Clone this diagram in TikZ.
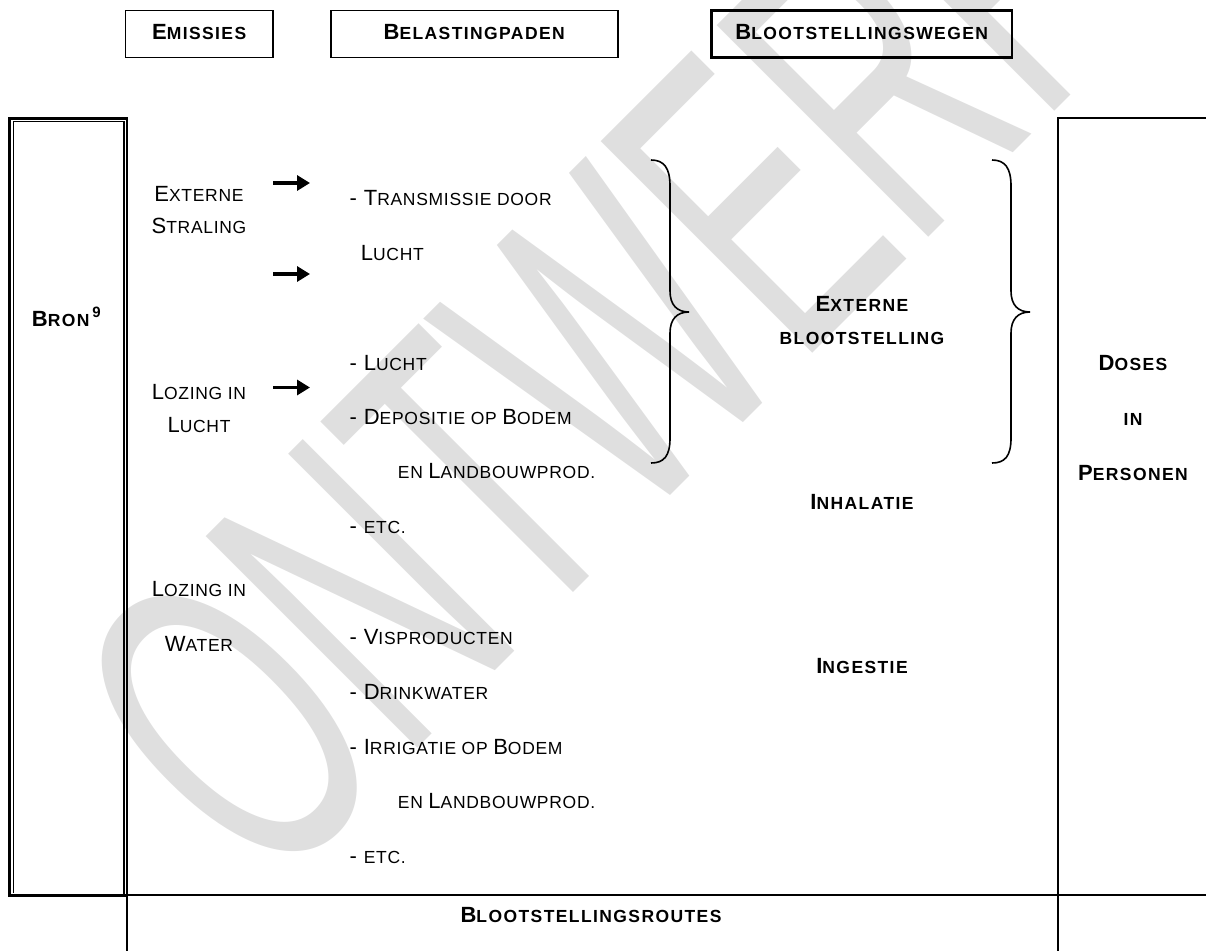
\documentclass[tikz,border=0pt]{standalone}
\usepackage{fontspec}
\setmainfont[LetterSpace=4,BoldFeatures={LetterSpace=8}]{Liberation Sans}
\newfontfamily\wmfont{Liberation Sans}
\usetikzlibrary{arrows.meta}
\newcommand\sm[1]{{\fontsize{17.5}{20}\selectfont #1}}
\tikzset{
  lbl/.style={inner sep=0pt, font=\fontsize{22}{26}\selectfont},
  lblc/.style={lbl, anchor=base},
  lbll/.style={lbl, anchor=base west},
  hdr/.style={inner sep=0pt, anchor=base, font=\fontsize{22}{26}\selectfont\bfseries},
  hbox/.style={draw=black, line width=1.8pt, inner sep=0pt, minimum height=47pt},
  rule/.style={draw=black, line width=1.9pt},
  emarrow/.style={line width=3.2pt, -{Triangle[length=13pt,width=15pt]}},
  brace/.style={draw=black, line width=1.6pt},
}
\begin{document}
\begin{tikzpicture}[x=1pt,y=-1pt]
\useasboundingbox (0,0) rectangle (1206,951);
% watermark
\node[text=gray!25, rotate=45, xscale=0.565, inner sep=0pt, anchor=base west] (wm) at (268,898)
  {\wmfont\fontsize{435}{435}\selectfont ONTWERP};
% header boxes
\node[hbox, minimum width=147.6pt] (hb1) at (199.2,34) {};
\node[hbox, minimum width=286.9pt] (hb2) at (474.2,34) {};
\node[hbox, line width=2.2pt, minimum width=300.6pt] (hb3) at (861.7,34) {};
\node[hdr] (h1) at (199.2,39.5) {E\sm{MISSIES}};
\node[hdr] (h2) at (474.2,39.5) {B\sm{ELASTINGPADEN}};
\node[hdr] (h3) at (861.7,39.5) {B\sm{LOOTSTELLINGSWEGEN}};
% Bron box (double frame)
\draw[line width=2.7pt] (128,118.2) -- (9.6,118.2) -- (9.6,895.3) -- (128,895.3);
\draw[line width=1pt] (123.7,121.2) -- (13.2,121.2) -- (13.2,893);
\draw[line width=1.8pt] (123.7,121.2) -- (123.7,895);
\draw[rule] (126.6,118) -- (126.6,951);
\draw[rule] (126.6,895.2) -- (1206,895.2);
\draw[rule] (1206,118.3) -- (1057.7,118.3) -- (1057.7,951);
\node[hdr, anchor=base west] (bron) at (31.7,326.7) {B\sm{RON}\hspace{3pt}\raisebox{9pt}{\fontsize{15}{15}\selectfont 9}};
% left column
\node[lblc] (e1) at (199,201) {E\sm{XTERNE}};
\node[lblc] (e2) at (199,233.5) {S\sm{TRALING}};
\node[lblc] (l1) at (199,399) {L\sm{OZING IN}};
\node[lblc] (l2) at (199,432.5) {L\sm{UCHT}};
\node[lblc] (w1) at (199,596.5) {L\sm{OZING IN}};
\node[lblc] (w2) at (199,651.5) {W\sm{ATER}};
% arrows
\coordinate (a1s) at (273,183); \coordinate (a1e) at (310,183);
\coordinate (a2s) at (273,274); \coordinate (a2e) at (310,274);
\coordinate (a3s) at (273,387.5); \coordinate (a3e) at (310,387.5);
\draw[emarrow] (a1s) -- (a1e);
\draw[emarrow] (a2s) -- (a2e);
\draw[emarrow] (a3s) -- (a3e);
% middle column
\node[lbll] (m1) at (349.3,205) {- T\sm{RANSMISSIE DOOR}};
\node[lbll] (m2) at (360.7,260) {L\sm{UCHT}};
\node[lbll] (m3) at (349.3,370) {- L\sm{UCHT}};
\node[lbll] (m4) at (349.3,424) {- D\sm{EPOSITIE OP }B\sm{ODEM}};
\node[lbll] (m5) at (397.7,478.3) {\sm{EN }L\sm{ANDBOUWPROD.}};
\node[lbll] (m6) at (349.3,533.5) {- \sm{ETC.}};
\node[lbll] (m7) at (349.3,644.3) {- V\sm{ISPRODUCTEN}};
\node[lbll] (m8) at (349.3,699.3) {- D\sm{RINKWATER}};
\node[lbll] (m9) at (349.3,754.3) {- I\sm{RRIGATIE OP }B\sm{ODEM}};
\node[lbll] (m10) at (397.7,808.3) {\sm{EN }L\sm{ANDBOUWPROD.}};
\node[lbll] (m11) at (349.3,863.5) {- \sm{ETC.}};
% braces
\draw[brace] (651,160) .. controls (664,160) and (670,168) .. (670,186) -- (670,291)
  .. controls (670,305) and (677,312) .. (689,312)
  .. controls (677,312) and (670,319) .. (670,333) -- (670,438)
  .. controls (670,456) and (664,463) .. (651,463);
\draw[brace] (992,160) .. controls (1005,160) and (1011,168) .. (1011,186) -- (1011,291)
  .. controls (1011,305) and (1018,312) .. (1030,312)
  .. controls (1018,312) and (1011,319) .. (1011,333) -- (1011,438)
  .. controls (1011,456) and (1005,463) .. (992,463);
% right column
\node[hdr] (x1) at (862,311.7) {E\sm{XTERNE}};
\node[hdr] (x2) at (862,344) {\sm{BLOOTSTELLING}};
\node[hdr] (inh) at (862,509) {I\sm{NHALATIE}};
\node[hdr] (ing) at (862,673.3) {I\sm{NGESTIE}};
\node[hdr] (d1) at (1133,370) {D\sm{OSES}};
\node[hdr] (d2) at (1133,425) {\sm{IN}};
\node[hdr] (d3) at (1133,480) {P\sm{ERSONEN}};
% bottom
\node[hdr] (routes) at (591,922.3) {B\sm{LOOTSTELLINGSROUTES}};
\end{tikzpicture}
\end{document}
